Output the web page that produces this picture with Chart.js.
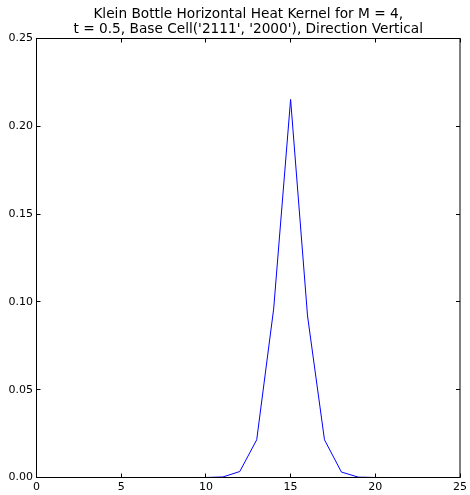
<!DOCTYPE html>
<html>
<head>
<meta charset="utf-8">
<script src="https://cdn.jsdelivr.net/npm/chart.js@4.4.0/dist/chart.umd.min.js"></script>
<style>
  html, body { margin: 0; padding: 0; background: #fff; }
  #wrap { width: 470px; height: 495px; }
</style>
</head>
<body>
<div id="wrap"><canvas id="kernelChart" width="470" height="495"></canvas></div>
<script>
// Heat kernel values, one per cell index
const cellIndex = [0, 1, 2, 3, 4, 5, 6, 7, 8, 9, 10, 11, 12, 13, 14, 15, 16, 17, 18, 19, 20, 21, 22, 23, 24];
const kernelValues = [0, 0, 0, 0, 0, 0, 0, 0, 0, 0, 0.00001, 0.0003, 0.0034, 0.0215, 0.096, 0.2153, 0.092, 0.0215, 0.0031, 0.0002, 0.00001, 0, 0, 0, 0];

const xTicks = [0, 5, 10, 15, 20, 25];
const yTicks = [0, 0.05, 0.10, 0.15, 0.20, 0.25];

const titleLines = ['Klein Bottle Horizontal Heat Kernel for M = 4,', "t = 0.5, Base Cell('2111', '2000'), Direction Vertical"];

// matplotlib style frame with inward ticks on all four sides, drawn over the line
const framePlugin = {
    id: 'frame',
    afterDraw(chart) {
        const { ctx, chartArea: a, scales } = chart;
        const len = 4;
        ctx.save();
        ctx.strokeStyle = '#000';
        ctx.lineWidth = 1;
        ctx.beginPath();
        xTicks.forEach(v => {
            const px = Math.floor(scales.x.getPixelForValue(v)) + 0.5;
            ctx.moveTo(px, a.bottom); ctx.lineTo(px, a.bottom - len);
            ctx.moveTo(px, a.top); ctx.lineTo(px, a.top + len);
        });
        yTicks.forEach(v => {
            const py = Math.floor(scales.y.getPixelForValue(v)) + 0.5;
            ctx.moveTo(a.left, py); ctx.lineTo(a.left + len, py);
            ctx.moveTo(a.right, py); ctx.lineTo(a.right - len, py);
        });
        ctx.stroke();
        ctx.strokeRect(a.left, a.top, a.right - a.left, a.bottom - a.top);
        ctx.restore();
    }
};

const ctx = document.getElementById('kernelChart').getContext('2d');
new Chart(ctx, {
    type: 'line',
    data: {
        datasets: [{
            data: cellIndex.map((x, i) => ({ x: x, y: kernelValues[i] })),
            borderColor: '#0000ff',
            borderWidth: 1,
            pointRadius: 0,
            fill: false,
            tension: 0
        }]
    },
    options: {
        responsive: false,
        animation: false,
        layout: { padding: { top: 0, right: 8.5, bottom: 0, left: 0 } },
        plugins: {
            legend: { display: false },
            tooltip: { enabled: false },
            title: {
                display: true,
                fullSize: false,
                text: titleLines,
                color: '#000',
                font: { family: 'DejaVu Sans', size: 13.7, weight: 'normal', lineHeight: '15px' },
                padding: { top: 7, bottom: 1.5 }
            }
        },
        scales: {
            x: {
                type: 'linear',
                min: 0,
                max: 25,
                afterBuildTicks: scale => { scale.ticks = xTicks.map(v => ({ value: v })); },
                afterFit: scale => { scale.height = 17.5; },
                grid: { display: false, drawTicks: false },
                border: { display: false },
                ticks: {
                    color: '#000',
                    padding: 3,
                    maxRotation: 0,
                    font: { family: 'DejaVu Sans', size: 11 },
                    callback: v => String(v)
                }
            },
            y: {
                type: 'linear',
                min: 0,
                max: 0.25,
                afterBuildTicks: scale => { scale.ticks = yTicks.map(v => ({ value: v })); },
                afterFit: scale => { scale.width = 36.5; },
                grid: { display: false, drawTicks: false },
                border: { display: false },
                ticks: {
                    color: '#000',
                    padding: 3.5,
                    font: { family: 'DejaVu Sans', size: 11 },
                    callback: v => v.toFixed(2)
                }
            }
        }
    },
    plugins: [framePlugin]
});
</script>
</body>
</html>
